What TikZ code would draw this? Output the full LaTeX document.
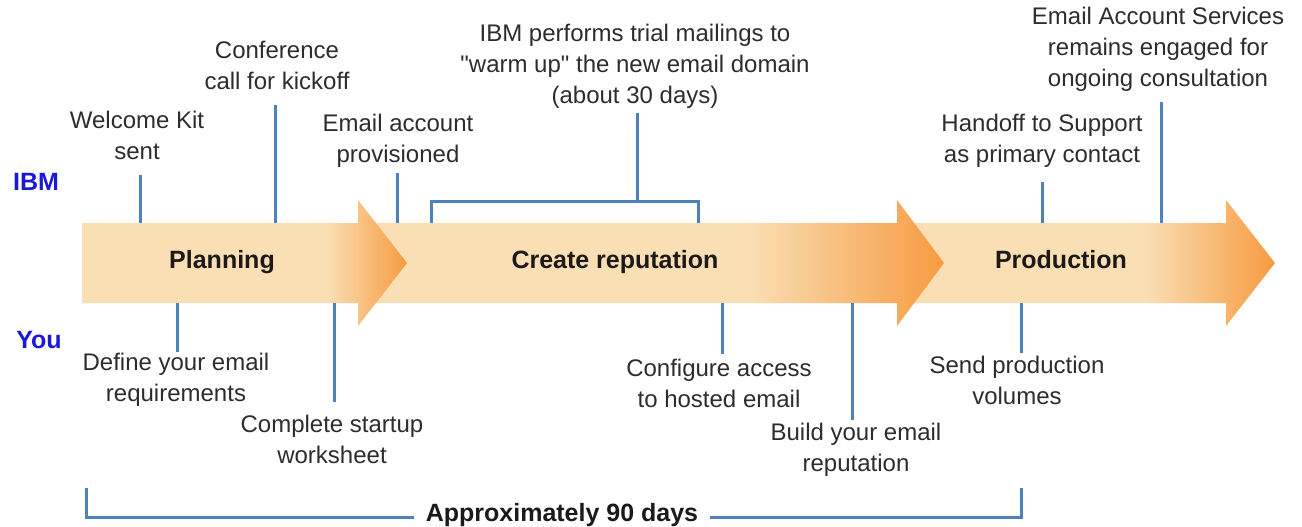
\documentclass[tikz,border=0pt]{standalone}
\usepackage{fontspec}
\setmainfont{Liberation Sans}[Ligatures=TeXOff]
\definecolor{cbeige}{RGB}{250,222,180}
\definecolor{corange}{RGB}{247,155,65}
\definecolor{cline}{RGB}{79,129,189}
\definecolor{ctext}{RGB}{45,45,45}
\definecolor{cphase}{RGB}{30,25,25}
\definecolor{cblue}{RGB}{25,25,215}
\pgfdeclarehorizontalshading{shadeA}{100bp}{color(0bp)=(cbeige); color(25bp)=(cbeige); color(62.7bp)=(cbeige); color(75bp)=(corange); color(100bp)=(corange)}
\pgfdeclarehorizontalshading{shadeB}{100bp}{color(0bp)=(cbeige); color(25bp)=(cbeige); color(57.8bp)=(cbeige); color(75bp)=(corange); color(100bp)=(corange)}
\begin{document}
\begin{tikzpicture}[x=1pt,y=-1pt,
  lbl/.style={align=center, anchor=south, inner sep=0pt, text depth=0pt, text=ctext, font=\fontsize{24}{31}\selectfont},
  phase/.style={anchor=base, inner sep=0pt, text=cphase, font=\fontsize{25}{30}\selectfont\bfseries},
  side/.style={anchor=base, inner sep=0pt, text=cblue, font=\fontsize{25}{30}\selectfont\bfseries},
  conn/.style={draw=cline, line width=3pt},
]
\useasboundingbox (0,0) rectangle (1302,527);
\fill[white] (0,0) rectangle (1302,527);

% phase arrows (drawn right to left so earlier heads lie on top)
\path[shading=shadeB] (900,223) -- (1226,223) -- (1226,200) -- (1275,263) -- (1226,326) -- (1226,303) -- (900,303) -- cycle;
\path[shading=shadeB] (375,223) -- (897,223) -- (897,200) -- (944,263) -- (897,326) -- (897,303) -- (375,303) -- cycle;
\path[shading=shadeA] (82,223) -- (358,223) -- (358,200) -- (407,263) -- (358,326) -- (358,303) -- (82,303) -- cycle;

% phase names and sides
\node[phase] (planning) at (222,268) {Planning};
\node[phase] (create) at (615,268) {Create reputation};
\node[phase] (production) at (1061,268) {Production};
\node[side] (ibm) at (36,190) {IBM};
\node[side] (you) at (39,348) {You};

% IBM labels
\node[lbl] (welcome) at (137,160) {Welcome Kit\\sent};
\node[lbl] (conference) at (277,90) {Conference\\call for kickoff};
\node[lbl] (provisioned) at (398,163) {Email account\\provisioned};
\node[lbl] (trial) at (635,104) {IBM performs trial mailings to\\"warm up" the new email domain\\(about 30 days)};
\node[lbl] (handoff) at (1042,163) {Handoff to Support\\as primary contact};
\node[lbl] (services) at (1158,87) {Email Account Services\\remains engaged for\\ongoing consultation};

% You labels
\node[lbl] (define) at (176,402) {Define your email\\requirements};
\node[lbl] (complete) at (332,464) {Complete startup\\worksheet};
\node[lbl] (configure) at (719,408) {Configure access\\to hosted email};
\node[lbl] (build) at (856,472) {Build your email\\reputation};
\node[lbl] (send) at (1017,405) {Send production\\volumes};

% connector end points
\coordinate (welA) at (140,175);  \coordinate (welB) at (140,223);
\coordinate (conA) at (275,105);  \coordinate (conB) at (275,223);
\coordinate (proA) at (397,173);  \coordinate (proB) at (397,223);
\coordinate (triA) at (637,113);  \coordinate (triB) at (637,201);
\coordinate (brL) at (431,223);   \coordinate (brLt) at (431,201);
\coordinate (brR) at (698,223);   \coordinate (brRt) at (698,201);
\coordinate (hanA) at (1042,182); \coordinate (hanB) at (1042,223);
\coordinate (serA) at (1161,102); \coordinate (serB) at (1161,223);
\coordinate (defA) at (177,303);  \coordinate (defB) at (177,352);
\coordinate (comA) at (334,303);  \coordinate (comB) at (334,402);
\coordinate (cfgA) at (722,303);  \coordinate (cfgB) at (722,354);
\coordinate (bldA) at (852,303);  \coordinate (bldB) at (852,420);
\coordinate (sndA) at (1021,303); \coordinate (sndB) at (1021,353);
\coordinate (dayLt) at (86,488);  \coordinate (dayL) at (86,517);
\coordinate (dayRt) at (1021,488); \coordinate (dayR) at (1021,517);

% connectors
\draw[conn] (welA) -- (welB);
\draw[conn] (conA) -- (conB);
\draw[conn] (proA) -- (proB);
\draw[conn] (triA) -- (triB);
\draw[conn] (brL) -- (brLt) -- (brRt) -- (brR);
\draw[conn] (hanA) -- (hanB);
\draw[conn] (serA) -- (serB);
\draw[conn] (defA) -- (defB);
\draw[conn] (comA) -- (comB);
\draw[conn] (cfgA) -- (cfgB);
\draw[conn] (bldA) -- (bldB);
\draw[conn] (sndA) -- (sndB);
\draw[conn] (dayLt) -- (dayL) -- (dayR) -- (dayRt);

\node[phase, fill=white, inner xsep=12pt, inner ysep=1pt] (days) at (562,521) {Approximately 90 days};
\end{tikzpicture}
\end{document}
